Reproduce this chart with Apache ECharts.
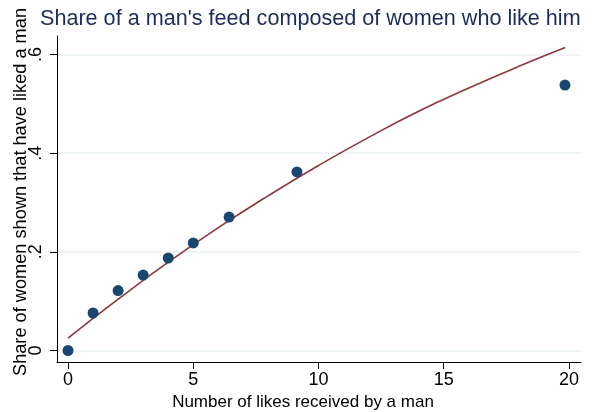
<!DOCTYPE html>
<html><head><meta charset="utf-8">
<script src="https://cdn.jsdelivr.net/npm/echarts@6/dist/echarts.min.js"></script>
<style>html,body{margin:0;padding:0;background:#fff}#c{width:594px;height:412px}</style>
</head><body><div id="c"></div>
<script>
const titleText = "Share of a man's feed composed of women who like him";
const xName = "Number of likes received by a man";
const yName = "Share of women shown that have liked a man";
const likes = [0, 1, 2, 3, 4, 5, 6.43, 9.14, 19.84];
const share = [0, 0.076, 0.1215, 0.153, 0.1875, 0.218, 0.2705, 0.362, 0.538];
const fitX = [0, 2, 4, 6, 8, 10, 12, 14, 16, 18, 19.85];
const fitY = [0.025, 0.104, 0.179, 0.249, 0.314, 0.375, 0.432, 0.485, 0.532, 0.576, 0.614];
const xTicks = [0, 5, 10, 15, 20];
const yTicks = [0, 0.2, 0.4, 0.6];

const font = 'Liberation Sans, Arial, sans-serif';
const chart = echarts.init(document.getElementById('c'), null, {renderer: 'canvas'});
chart.setOption({
  animation: false,
  backgroundColor: '#fff',
  title: {
    text: titleText, left: 40, top: 8, padding: 0,
    textStyle: {fontFamily: font, fontSize: 21.6, fontWeight: 'normal', color: '#1c2d5c'}
  },
  grid: {left: 57, right: 13, top: 36, bottom: 50, containLabel: false, outerBoundsMode: 'none'},
  xAxis: {
    type: 'value', min: -0.44, max: 20.48,
    name: xName, nameLocation: 'middle', nameGap: 32, nameMoveOverlap: false,
    nameTextStyle: {fontFamily: font, fontSize: 17, color: '#000', padding: [0, 32, 0, 0]},
    axisLine: {show: true, onZero: false, lineStyle: {color: '#000', width: 1}},
    axisTick: {show: true, length: 7, customValues: xTicks, lineStyle: {color: '#000'}},
    axisLabel: {customValues: xTicks, fontFamily: font, fontSize: 18, color: '#000', margin: 9},
    splitLine: {show: false}
  },
  yAxis: {
    type: 'value', min: -0.0233, max: 0.6375,
    name: yName, nameLocation: 'middle', nameGap: 27, nameMoveOverlap: false,
    nameTextStyle: {fontFamily: font, fontSize: 18.2, color: '#000', padding: [0, 0, 0, 14]},
    axisLine: {show: true, onZero: false, lineStyle: {color: '#000', width: 1}},
    axisTick: {show: true, length: 7, customValues: yTicks, lineStyle: {color: '#000'}},
    axisLabel: {
      customValues: yTicks, rotate: 90, fontFamily: font, fontSize: 18, color: '#000', margin: 12,
      formatter: v => v === 0 ? '0' : String(Math.round(v * 10) / 10).replace(/^0/, '')
    },
    splitLine: {show: true, lineStyle: {color: '#eaf2f3', width: 1.5}}
  },
  series: [
    {
      type: 'scatter', data: likes.map((x, i) => [x, share[i]]),
      symbolSize: 11, itemStyle: {color: '#1a476f', opacity: 1}, z: 3
    },
    {
      type: 'line', data: fitX.map((x, i) => [x, fitY[i]]), smooth: true,
      showSymbol: false, symbol: 'none', lineStyle: {color: '#90353b', width: 1.6}, z: 2
    }
  ]
});
</script></body></html>
